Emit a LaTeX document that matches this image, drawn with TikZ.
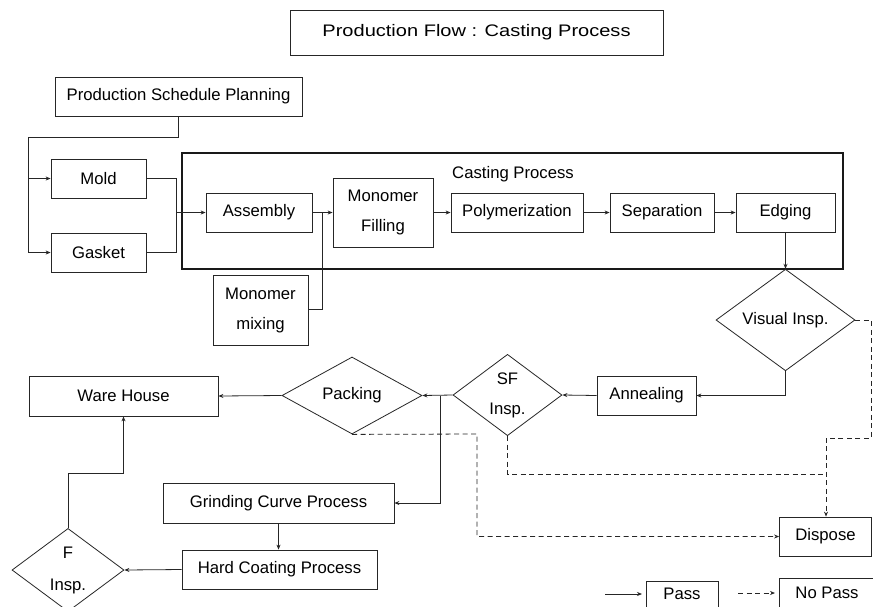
\documentclass[tikz,border=0pt]{standalone}
\usepackage{fontspec}
\setmainfont{Liberation Sans}
\usetikzlibrary{shapes.geometric,arrows.meta}
\begin{document}
\begin{tikzpicture}[x=1pt,y=-1pt,
  every node/.style={font=\fontsize{16.7}{19}\selectfont},
  box/.style={draw=black!85,line width=0.8pt,rectangle,inner sep=0pt,align=center},
  dia/.style={draw=black!85,line width=0.8pt,diamond,inner sep=0pt,align=center},
  conn/.style={draw=black!85,line width=0.8pt},
  arr/.style={conn,-{Stealth[length=5pt,width=4pt]}},
  noarr/.style={conn,dash pattern=on 5pt off 3.5pt},
  darr/.style={noarr,-{Stealth[length=5pt,width=4pt]}}
]
\useasboundingbox (0,0) rectangle (873,606);
\fill[white] (0,0) rectangle (873,606);
% title
\node[box,minimum width=373pt,minimum height=45pt] (title) at (476.5,32.5) {\scalebox{1.2}[1]{Production Flow : Casting Process}};
% frame
\draw[line width=2.4pt,black!90] (182,153) rectangle (843,269);
\node (ctitle) at (513,174) {Casting Process};
% nodes
\node[box,minimum width=247pt,minimum height=39pt] (sched) at (178.5,96.5) {Production Schedule Planning};
\node[box,minimum width=95pt,minimum height=39pt] (mold) at (98.5,178.5) {Mold};
\node[box,minimum width=95pt,minimum height=39pt] (gasket) at (98.5,252.5) {Gasket};
\node[box,minimum width=106pt,minimum height=39pt] (assembly) at (259,212.5) {Assembly};
\node[box,minimum width=100pt,minimum height=69pt] (filling) at (383,212.5) {Monomer\\[11pt]Filling};
\node[box,minimum width=132pt,minimum height=39pt] (poly) at (517,212.5) {Polymerization};
\node[box,minimum width=104pt,minimum height=39pt] (sep) at (662,212.5) {Separation};
\node[box,minimum width=99pt,minimum height=39pt] (edging) at (785.5,212.5) {Edging};
\node[box,minimum width=95pt,minimum height=70pt] (mixing) at (260.5,310) {Monomer\\[11pt]mixing};
\node[dia,minimum width=139pt,minimum height=76pt] (visual) at (785.5,320) {Visual Insp.};
\node[box,minimum width=99pt,minimum height=39pt] (anneal) at (646.5,395.5) {Annealing};
\node[dia,minimum width=109pt,minimum height=76pt] (sf) at (507.5,395) {SF\\[11pt]Insp.};
\node[dia,minimum width=140pt,minimum height=77pt] (packing) at (352,395.5) {Packing};
\node[box,minimum width=189pt,minimum height=40pt] (ware) at (123.5,396) {Ware House};
\node[box,minimum width=231pt,minimum height=40pt] (grind) at (278.5,503) {Grinding Curve Process};
\node[box,minimum width=195pt,minimum height=39pt] (hard) at (279.5,569.5) {Hard Coating Process};
\node[dia,minimum width=112pt,minimum height=76pt] (finsp) at (68,570) {F\\[13pt]Insp.};
\node[box,minimum width=92pt,minimum height=39pt] (dispose) at (825.5,536.5) {Dispose};
% legend
\draw[box] (646,581) rectangle (718,612);
\node (pass) at (682,594) {Pass};
\draw[box] (779,578) rectangle (880,612);
\node (nopass) at (827,593) {No Pass};
\coordinate (la1) at (605,594);
\coordinate (la2) at (642,594);
\coordinate (lb1) at (738,593);
\coordinate (lb2) at (775,593);
\draw[arr] (la1) -- (la2);
\draw[darr] (lb1) -- (lb2);
% connectors
\coordinate (s1) at (178,137);
\coordinate (s2) at (28,137);
\draw[conn] (sched.south -| s1) -- (s1) -- (s2) -- (s2 |- gasket.west);
\draw[arr] (s2 |- gasket.west) -- (gasket.west);
\draw[arr] (s2 |- mold.west) -- (mold.west);
\coordinate (m1) at (176,178.5);
\draw[conn] (mold.east) -- (m1) -- (m1 |- gasket.east) -- (gasket.east);
\draw[arr] (m1 |- assembly.west) -- (assembly.west);
\draw[arr] (assembly.east) -- (filling.west);
\coordinate (x1) at (322,309);
\draw[conn] (mixing.east |- x1) -- (x1) -- (x1 |- assembly.east);
\draw[arr] (filling.east |- poly.west) -- (poly.west);
\draw[arr] (poly.east) -- (sep.west);
\draw[arr] (sep.east) -- (edging.west);
\draw[arr] (edging.south) -- (visual.north);
\draw[arr] (visual.south) -- (visual.south |- anneal.east) -- (anneal.east);
\draw[arr] (anneal.west) -- (sf.east);
\draw[arr] (sf.west) -- (packing.east);
\coordinate (g1) at (440,395.5);
\draw[arr] (g1) -- (g1 |- grind.east) -- (grind.east);
\draw[arr] (packing.west) -- (ware.east);
\draw[arr] (grind.south) -- (grind.south |- hard.north);
\draw[arr] (hard.west) -- (finsp.east);
\coordinate (f1) at (68,473);
\draw[arr] (finsp.north) -- (f1) -- (f1 -| ware.south) -- (ware.south);
% no pass
\coordinate (v1) at (871,320);
\coordinate (v2) at (871,438);
\coordinate (v3) at (826,438);
\draw[darr] (visual.east) -- (v1) -- (v2) -- (v3) -- (v3 |- dispose.north);
\coordinate (q1) at (507.5,474);
\draw[noarr] (sf.south) -- (q1) -- (q1 -| v3);
\coordinate (p1) at (477,434);
\draw[darr] (packing.south) -- (p1) -- (p1 |- dispose.west) -- (dispose.west);
\end{tikzpicture}
\end{document}
